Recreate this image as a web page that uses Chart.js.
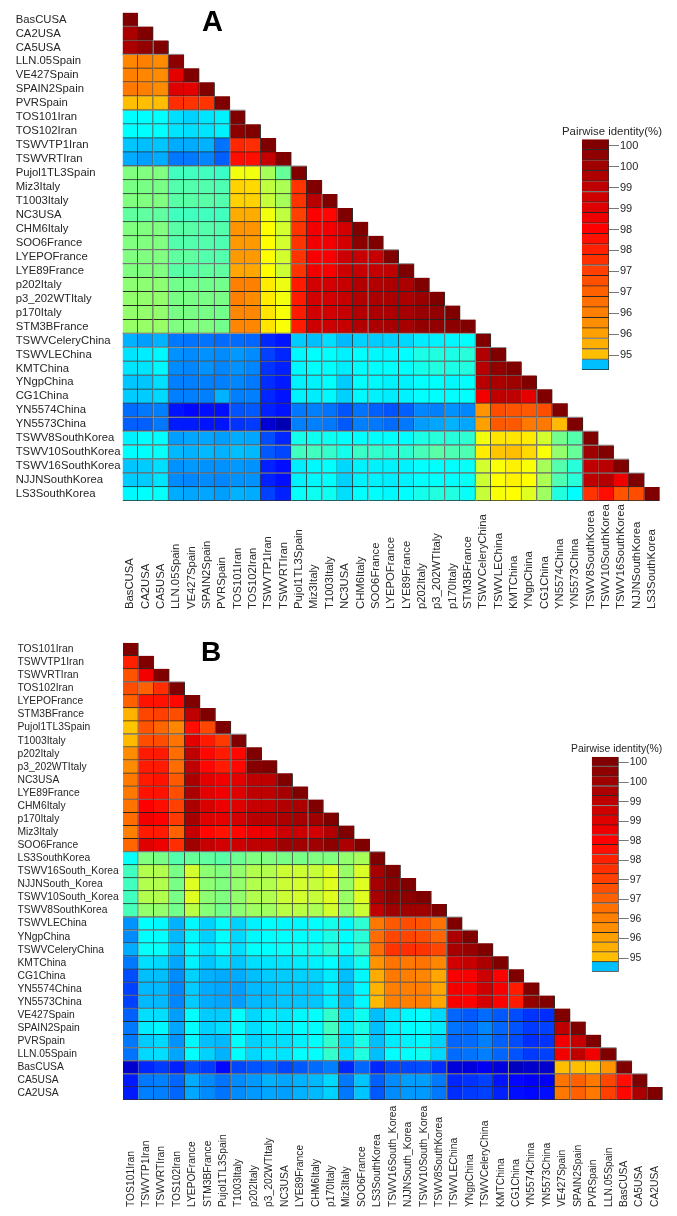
<!DOCTYPE html>
<html lang="en">
<head>
    <meta charset="UTF-8">
    <title>Pairwise identity</title>
    <script src="https://cdn.jsdelivr.net/npm/chart.js"></script>
    <style>
        html, body { margin: 0; padding: 0; background: #fff; }
        #page { position: relative; width: 677px; height: 1216px; overflow: hidden; font-family: "Liberation Sans", Arial, sans-serif; color: #262626; }
        canvas { position: absolute; }
        .letter { position: absolute; font-weight: bold; color: #000; line-height: 1; }
        .keyTitle { position: absolute; white-space: nowrap; line-height: 1; }
    </style>
</head>
<body>
<div id="page">
    <canvas id="panelA" width="677" height="625" style="left:0;top:0"></canvas>
    <canvas id="panelB" width="677" height="591" style="left:0;top:625px"></canvas>
    <canvas id="keyA" width="147" height="280" style="left:530px;top:110px"></canvas>
    <canvas id="keyB" width="137" height="260" style="left:540px;top:730px"></canvas>
    <div class="letter" style="left:202px;top:7px;font-size:29px">A</div>
    <div class="letter" style="left:201px;top:638px;font-size:28px">B</div>
    <div class="keyTitle" style="left:562px;top:126px;font-size:11.4px">Pairwise identity(%)</div>
    <div class="keyTitle" style="left:571px;top:744px;font-size:10.4px">Pairwise identity(%)</div>
</div>

<script>
    // Isolate names, top to bottom / left to right
    const labelsA = ['BasCUSA', 'CA2USA', 'CA5USA', 'LLN.05Spain', 'VE427Spain', 'SPAIN2Spain', 'PVRSpain',
        'TOS101Iran', 'TOS102Iran', 'TSWVTP1Iran', 'TSWVRTIran', 'Pujol1TL3Spain', 'Miz3Italy', 'T1003Italy',
        'NC3USA', 'CHM6Italy', 'SOO6France', 'LYEPOFrance', 'LYE89France', 'p202Italy', 'p3_202WTItaly',
        'p170Italy', 'STM3BFrance', 'TSWVCeleryChina', 'TSWVLEChina', 'KMTChina', 'YNgpChina', 'CG1China',
        'YN5574China', 'YN5573China', 'TSWV8SouthKorea', 'TSWV10SouthKorea', 'TSWV16SouthKorea',
        'NJJNSouthKorea', 'LS3SouthKorea'];

    const labelsB = ['TOS101Iran', 'TSWVTP1Iran', 'TSWVRTIran', 'TOS102Iran', 'LYEPOFrance', 'STM3BFrance',
        'Pujol1TL3Spain', 'T1003Italy', 'p202Italy', 'p3_202WTItaly', 'NC3USA', 'LYE89France', 'CHM6Italy',
        'p170Italy', 'Miz3Italy', 'SOO6France', 'LS3SouthKorea', 'TSWV16South_Korea', 'NJJNSouth_Korea',
        'TSWV10South_Korea', 'TSWV8SouthKorea', 'TSWVLEChina', 'YNgpChina', 'TSWVCeleryChina', 'KMTChina',
        'CG1China', 'YN5574China', 'YN5573China', 'VE427Spain', 'SPAIN2Spain', 'PVRSpain', 'LLN.05Spain',
        'BasCUSA', 'CA5USA', 'CA2USA'];

    // Pairwise identity (%), lower triangle by row
    const identityA = [
        [100],
        [99.3, 100],
        [99.3, 99.7, 100],
        [95.9, 96, 95.8, 99.8],
        [96, 95.9, 95.8, 98.4, 100],
        [96.1, 96, 95.8, 98.5, 98.4, 100],
        [95, 95, 95, 97.3, 97.2, 97.2, 100],
        [90, 90, 90, 89.5, 89.3, 89.6, 89.8, 100],
        [90, 90, 90, 89.6, 89.5, 89.6, 89.8, 99.8, 100],
        [89.1, 89, 89.1, 88.7, 88.7, 88.8, 87.8, 97.4, 97.3, 100],
        [88.7, 88.5, 88.7, 87.9, 87.9, 88.1, 87.5, 97.8, 97.8, 98.9, 100],
        [92, 92, 92, 91, 91, 91, 90.9, 93.8, 93.8, 92.6, 91.6, 100],
        [91.9, 91.9, 91.9, 91.3, 91.3, 91.3, 91.2, 94.7, 94.6, 93, 92.7, 97.2, 100],
        [92, 92, 92, 91.4, 91.4, 91.4, 91.3, 94.7, 94.7, 93.1, 92.6, 97.2, 99.1, 100],
        [91.5, 91.5, 91.5, 91, 91, 91, 91, 95.3, 95.3, 93.8, 93, 97, 98, 97.9, 100],
        [92, 92, 92, 91.4, 91.4, 91.3, 91.3, 95.7, 95.7, 94, 93.3, 97.2, 98.2, 98.2, 98.7, 100],
        [92, 92, 92, 91.3, 91.3, 91.3, 91.2, 95.6, 95.6, 94, 93.3, 97.2, 98.2, 98.2, 98.7, 99.8, 100],
        [92, 92, 92, 91.5, 91.5, 91.3, 91.3, 95.6, 95.6, 94, 93.3, 97.2, 98.1, 98.1, 98.8, 98.9, 98.9, 100],
        [92, 92, 92, 91.4, 91.4, 91.5, 91.5, 95.4, 95.4, 94, 93.2, 97.2, 98.2, 98.1, 98.8, 98.9, 98.9, 99, 100],
        [92.2, 92.2, 92.2, 91.8, 91.8, 91.8, 91.8, 96, 96, 94.3, 93.7, 97.6, 98.7, 98.7, 98.9, 99.2, 99.2, 99.3, 99.3, 100],
        [92.3, 92.3, 92.3, 91.9, 91.9, 91.9, 91.9, 96, 95.8, 94.3, 93.8, 97.6, 98.7, 98.7, 98.9, 99.2, 99.3, 99.3, 99.3, 99.6, 100],
        [92.3, 92.3, 92.3, 91.9, 91.9, 91.9, 91.8, 95.9, 95.9, 94.4, 93.9, 97.6, 98.7, 98.7, 98.9, 99.2, 99.3, 99.3, 99.4, 99.6, 99.7, 100],
        [92.4, 92.4, 92.4, 92, 92, 92, 91.8, 95.9, 95.9, 94.4, 93.9, 97.6, 98.8, 98.8, 98.9, 99.2, 99.3, 99.4, 99.4, 99.7, 99.7, 99.8, 100],
        [88.8, 88.5, 88.8, 87.9, 87.8, 87.8, 87.7, 87.7, 87.6, 86.6, 86.3, 89.2, 89, 89.5, 88.9, 89.3, 89.2, 89.3, 89.4, 89.7, 89.8, 89.9, 90, 100],
        [89.6, 89.7, 89.9, 88.3, 88.2, 88.3, 88.2, 88.4, 88.2, 87, 86.6, 89.9, 90, 90, 89.8, 90, 89.9, 89.9, 90, 90.4, 90.5, 90.4, 90.6, 99.2, 100],
        [89.6, 89.6, 89.9, 88.2, 88.1, 88.3, 88.1, 88.3, 88.1, 86.8, 86.5, 89.9, 90, 90, 89.7, 90, 90, 90, 90, 90.3, 90.5, 90.4, 90.5, 99.1, 99.7, 100],
        [89.1, 89.1, 89.5, 88, 88, 88, 88, 88.1, 87.9, 86.7, 86.4, 89.8, 89.8, 90, 89.2, 90, 89.9, 89.8, 89.8, 90, 90, 89.9, 90, 99.1, 99.3, 99.5, 100],
        [89.2, 89.2, 89.4, 88, 88, 88, 88.8, 88, 88, 86.6, 86.3, 89.8, 89.7, 89.9, 89.3, 89.9, 89.8, 89.7, 89.8, 90, 90, 90, 90, 98.2, 99, 99, 98.4, 100],
        [87.7, 87.9, 88, 86.3, 86.1, 86.2, 86.2, 87.3, 87.4, 86.5, 86.3, 87.9, 88, 87.8, 87.3, 87.8, 87.5, 87.3, 87.5, 88.1, 88, 88.3, 88.1, 95.7, 96.8, 96.7, 96.6, 96.8, 100],
        [87.5, 87.5, 87.9, 86.4, 86.4, 86.3, 86.3, 86.8, 86.9, 85.3, 84.8, 88, 88, 87.9, 87.4, 88, 87.9, 87.7, 87.9, 88.5, 88.6, 88.8, 88.6, 95.5, 96.6, 96.6, 96.1, 96.1, 95.1, 100],
        [89.8, 90, 90, 88.5, 88.6, 88.6, 88.5, 88.7, 88.6, 87.2, 86.6, 90.3, 90.2, 90.2, 90, 90, 90, 90, 90, 90.4, 90.6, 90.6, 90.7, 93.8, 94.4, 94.4, 94.3, 93.3, 91.8, 91.3, 100],
        [90, 90, 90.1, 88.9, 88.8, 88.9, 88.8, 89, 88.9, 87.4, 87.1, 91, 91, 90.8, 90.3, 90.9, 90.8, 90.6, 90.7, 91.1, 91.4, 91.2, 91.2, 94.3, 94.9, 95, 94.6, 93.9, 92.3, 91.6, 99.5, 100],
        [89.1, 89.2, 89.5, 88.3, 88.4, 88.3, 88.3, 88.4, 88.3, 86.5, 86.2, 89.7, 89.9, 90, 89.4, 89.8, 89.8, 89.8, 89.8, 90, 90, 90, 90.1, 93.3, 93.9, 94.2, 93.9, 92.6, 91.3, 90.6, 99, 99.1, 100],
        [89.2, 89.2, 89.6, 88.2, 88.1, 88.2, 88.1, 88.3, 88.3, 86.5, 86.2, 89.8, 89.9, 90, 89.3, 89.8, 89.8, 89.7, 89.8, 90, 90, 90, 90.1, 93.2, 94, 94.2, 94, 92.7, 91.2, 90.6, 99, 99.2, 98.3, 100],
        [89.9, 90, 90.1, 88.7, 88.6, 88.6, 88.5, 88.8, 88.7, 87, 86.5, 90.1, 90.2, 90.2, 89.5, 90, 90, 89.9, 90, 90.3, 90.5, 90.5, 90.1, 93.1, 93.9, 94, 93.5, 92.5, 90.5, 90, 97.2, 97.8, 96.7, 96.8, 100]
    ];

    const identityB = [
        [100],
        [97.5, 100],
        [96.7, 98.2, 100],
        [96.8, 96.5, 97.3, 100],
        [96.5, 97.7, 97.7, 97.9, 100],
        [95.2, 96.9, 97, 96.8, 99, 100],
        [94.9, 96.7, 96.4, 95.9, 97.8, 96.9, 100],
        [95.1, 96.8, 96.8, 96.2, 98.4, 97.6, 97.1, 100],
        [95.8, 97.6, 97.6, 96.3, 99, 97.9, 97.6, 97.9, 100],
        [95.8, 97.6, 97.6, 96.3, 99, 97.9, 97.6, 97.9, 99.9, 100],
        [96.1, 97.6, 97.7, 96.6, 99.3, 98.4, 98.2, 98.4, 99, 99, 100],
        [96.1, 97.7, 97.7, 96.8, 99.3, 98.4, 98.2, 98.5, 99, 99, 99.4, 100],
        [96.2, 98, 97.8, 97, 99.3, 98.6, 98.3, 98.5, 98.9, 98.9, 99.2, 99.3, 100],
        [96.3, 98.2, 98, 97.1, 99.4, 98.5, 98.4, 98.7, 99.1, 99.1, 99.3, 99.4, 99.5, 100],
        [96, 97.6, 97.6, 96.5, 98.9, 97.9, 97.7, 97.9, 98.3, 98.3, 98.8, 98.8, 98.7, 99.2, 100],
        [96.4, 98.5, 98.3, 97.3, 99.5, 98.9, 98.7, 98.8, 99, 99, 99.5, 99.5, 99.5, 99.8, 99.3, 100],
        [90.1, 92, 91.9, 91.3, 91.6, 91.5, 91.4, 91.7, 92, 92, 91.9, 91.9, 92, 92, 92.3, 92.6, 100],
        [91, 92.8, 92.8, 91.9, 93.3, 92.2, 92, 92.3, 92.8, 92.8, 93.2, 93.2, 93.1, 93.5, 92.4, 93.4, 99.4, 100],
        [91, 92.8, 92.8, 91.9, 93.5, 92.2, 92, 92.3, 92.8, 92.8, 93.2, 93.3, 93.1, 93.5, 92.4, 93.5, 99.4, 99.8, 100],
        [91, 92.8, 92.8, 91.9, 93.5, 92.2, 92, 92.3, 92.8, 92.8, 93.2, 93.3, 93.1, 93.5, 92.4, 93.5, 99.4, 99.8, 99.8, 100],
        [91.1, 92.3, 92.3, 91.8, 92.9, 92.1, 91.8, 92.2, 92.5, 92.5, 92.9, 92.9, 92.7, 93.3, 92.3, 93.2, 99, 99.5, 99.5, 99.5, 100],
        [88.3, 90, 89.9, 88.8, 89.9, 89.3, 89.9, 89.3, 89.8, 90, 89.9, 89.9, 90, 90.3, 89.9, 90.7, 96.1, 96.6, 96.8, 96.7, 96.2, 100],
        [88.2, 90, 90, 88.9, 89.9, 89.3, 90, 89.4, 89.9, 90, 90, 90, 90, 90.4, 90, 90.6, 96.3, 96.9, 96.9, 96.8, 96.4, 99.3, 100],
        [88.7, 90.1, 90.1, 89.1, 90, 89.5, 90, 89.5, 90, 90, 90.1, 90.2, 90.2, 90.7, 90, 90.9, 96.3, 97.2, 97.3, 97.2, 96.9, 99.4, 99.6, 100],
        [87.9, 89.5, 89.4, 88.6, 89.8, 89.1, 89.5, 89.1, 89.5, 89.6, 89.6, 89.7, 89.8, 90, 89.5, 90.2, 95.7, 96.2, 96.1, 96.2, 95.9, 98.7, 98.9, 99.3, 100],
        [87.2, 89, 89, 88.2, 89.3, 88.8, 88.7, 88.7, 89, 89.2, 89.2, 89.3, 89.3, 89.7, 89, 89.9, 95.3, 96.1, 96, 95.9, 95.4, 98.1, 98.1, 98.8, 98, 100],
        [87, 88.9, 88.9, 88.1, 89.2, 88.7, 88.6, 88.5, 88.9, 89, 89.1, 89.1, 89.1, 89.7, 89, 89.9, 95.2, 96, 96, 96, 95.4, 98.2, 98.1, 98.8, 98.1, 97.6, 100],
        [87, 88.9, 88.9, 88.1, 89.2, 88.7, 88.6, 88.5, 88.9, 89, 89.1, 89.1, 89.1, 89.7, 89, 89.9, 95.1, 96, 96, 96, 95.4, 98.1, 98, 98.7, 98, 97.6, 99.7, 100],
        [87.5, 89.5, 89.5, 88.5, 90, 89.2, 89.2, 90, 89.4, 89.7, 89.6, 89.9, 90, 90.8, 89.5, 90.2, 89, 89.6, 89.9, 90, 89.4, 87.6, 87.4, 87.7, 87.4, 87.2, 86.8, 86.7, 100],
        [87.9, 89.7, 89.9, 88.6, 90, 89.3, 89.5, 90, 89.5, 89.8, 89.7, 90, 90, 91, 89.7, 90.4, 89, 89.8, 90, 90, 89.7, 87.8, 87.7, 88.1, 87.6, 87.3, 86.9, 87, 99, 100],
        [87.9, 89.2, 89.4, 88.3, 89.9, 89, 88.9, 90, 89.3, 89.5, 89.5, 89.8, 90, 90.8, 89.4, 90.4, 89, 89.7, 89.8, 89.9, 89.3, 87.6, 87.7, 88, 87.5, 87.2, 86.7, 86.8, 98.2, 98.9, 100],
        [87.8, 89.4, 89.5, 88.6, 90, 89.3, 88.8, 90, 89.4, 89.7, 89.6, 90, 90, 90.8, 89.5, 90.5, 89, 90, 90, 90.2, 89.4, 87.7, 87.8, 88, 87.6, 87.3, 86.9, 87, 98.2, 99, 98.2, 100],
        [85.2, 86.6, 86.9, 86.5, 87.2, 86.9, 86.1, 87.1, 87.3, 87.5, 87.1, 87.4, 87.7, 88, 86.6, 87.6, 86.6, 87.1, 87.1, 87.2, 86.7, 85.4, 85.5, 85.8, 85.5, 85, 85.2, 85.2, 95, 95, 94.9, 95.7, 100],
        [86.4, 87.9, 88, 87.6, 88.7, 88.2, 87.8, 88.2, 88.4, 88.8, 88.6, 88.8, 88.9, 89.4, 87.9, 89.1, 87.5, 88.2, 88.5, 88.5, 87.9, 86.6, 86.8, 87, 86.3, 86.1, 85.9, 85.8, 96.2, 96.5, 96.1, 96.9, 97.8, 100],
        [86.4, 88, 88, 87.6, 88.6, 88.2, 87.8, 88.2, 88.4, 88.6, 88.5, 88.8, 88.9, 89.3, 87.9, 89.1, 87.4, 88.2, 88.4, 88.4, 87.9, 86.7, 86.9, 87, 86.5, 86.2, 86.1, 86.2, 96.1, 96.5, 96.1, 97, 97.9, 99.3, 100]
    ];

    // Colour key, top to bottom (the last bin is the "below 95" one)
    const keyValues = [100, 99.75, 99.5, 99.25, 99, 98.75, 98.5, 98.25, 98, 97.75, 97.5,
        97.25, 97, 96.75, 96.5, 96.25, 96, 95.75, 95.5, 95.25, 95, 89];
    const keyTickLabels = ['100', '100', '99', '99', '98', '98', '97', '97', '96', '96', '95'];

    // Cell boundaries that show up grey instead of black in the picture
    const greyRowsA = [3, 7, 11, 17, 18, 23, 24, 29, 30, 31, 32, 33];
    const greyColsA = [2, 7, 13, 16, 21, 23, 27, 30];
    const greyRowsB = [3, 7, 16, 21, 22, 31, 32, 33];
    const greyColsB = [7, 12, 16, 21, 25, 29, 33];
    const greyRowsKeyA = [5, 12, 19, 20];
    const greyRowsKeyB = [3, 5, 8, 10, 15];

    Chart.defaults.font.family = '"Liberation Sans", Arial, sans-serif';
    Chart.defaults.color = '#262626';

    // jet colormap, 84% = dark blue, 100% = dark red
    function identityColor(v) {
        const t = Math.min(1, Math.max(0, (v - 84) / 16));
        const ch = (x) => Math.round(255 * Math.min(1, Math.max(0, x)));
        const r = ch(Math.min(4 * t - 1.5, 4.5 - 4 * t));
        const g = ch(Math.min(4 * t - 0.5, 3.5 - 4 * t));
        const b = ch(Math.min(4 * t + 0.5, 2.5 - 4 * t));
        return `rgb(${r},${g},${b})`;
    }

    // One floating bar per cell, one dataset per row
    function cellDatasets(rows) {
        return rows.map((row, r) => ({
            data: row.map(() => [r, r + 1]),
            backgroundColor: row.map(identityColor),
            borderColor: 'rgba(15,15,15,0.88)',
            borderWidth: { top: 0, left: 0, right: 1, bottom: 1 },
            borderSkipped: false,
            grouped: false,
            barPercentage: 1,
            categoryPercentage: 1
        }));
    }

    // Rotated names hanging from a common bottom line
    const bottomLabels = {
        id: 'bottomLabels',
        afterDraw(chart, args, opts) {
            const ctx = chart.ctx;
            ctx.save();
            ctx.font = opts.size + 'px "Liberation Sans", Arial, sans-serif';
            ctx.fillStyle = '#262626';
            ctx.textAlign = 'left';
            ctx.textBaseline = 'middle';
            chart.data.labels.forEach((name, i) => {
                ctx.save();
                ctx.translate(chart.scales.x.getPixelForValue(i), opts.y);
                ctx.rotate(-Math.PI / 2);
                ctx.fillText(name, 0, 0);
                ctx.restore();
            });
            ctx.restore();
        }
    };

    // Grey boundaries, placed with the scales and stopped at the triangle's edge
    const greyLines = {
        id: 'greyLines',
        afterDatasetsDraw(chart, args, opts) {
            const { x, y } = chart.scales;
            const cols = chart.data.labels.length;
            const ctx = chart.ctx;
            ctx.save();
            ctx.strokeStyle = '#8c8c8c';
            ctx.lineWidth = 1;
            ctx.beginPath();
            opts.rows.forEach((r) => {
                ctx.moveTo(x.getPixelForValue(-0.5), y.getPixelForValue(r));
                ctx.lineTo(x.getPixelForValue(Math.min(r + 1, cols) - 0.5), y.getPixelForValue(r));
            });
            opts.cols.forEach((c) => {
                ctx.moveTo(x.getPixelForValue(c - 0.5), y.getPixelForValue(c));
                ctx.lineTo(x.getPixelForValue(c - 0.5), y.max === undefined ? 0 : y.getPixelForValue(y.max));
            });
            ctx.stroke();
            ctx.restore();
        }
    };

    function drawPanel(id, labels, rows, box) {
        new Chart(document.getElementById(id), {
            type: 'bar',
            data: { labels: labels, datasets: cellDatasets(rows) },
            plugins: [greyLines, bottomLabels],
            options: {
                responsive: false,
                animation: false,
                layout: { padding: box.padding },
                plugins: {
                    legend: { display: false },
                    tooltip: { enabled: false },
                    bottomLabels: { y: box.labelY, size: box.fontSize },
                    greyLines: { rows: box.greyRows, cols: box.greyCols }
                },
                scales: {
                    x: { type: 'category', display: false, offset: true },
                    y: {
                        type: 'linear',
                        reverse: true,
                        min: 0,
                        max: labels.length,
                        afterBuildTicks: (axis) => { axis.ticks = labels.map((_, i) => ({ value: i + 0.5 })); },
                        afterFit: (axis) => { axis.width = box.axisWidth; },
                        grid: { display: false },
                        border: { display: false },
                        ticks: {
                            autoSkip: false,
                            crossAlign: 'far',
                            padding: 0,
                            font: { size: box.fontSize },
                            callback: (value, i) => labels[i]
                        }
                    }
                }
            }
        });
    }

    function drawKey(id, box) {
        new Chart(document.getElementById(id), {
            type: 'bar',
            data: { labels: ['key'], datasets: cellDatasets(keyValues.map(v => [v])) },
            plugins: [greyLines],
            options: {
                responsive: false,
                animation: false,
                layout: { padding: box.padding },
                plugins: {
                    legend: { display: false },
                    tooltip: { enabled: false },
                    greyLines: { rows: box.greyRows, cols: [] }
                },
                scales: {
                    x: { type: 'category', display: false, offset: true },
                    y: {
                        type: 'linear',
                        position: 'right',
                        reverse: true,
                        min: 0,
                        max: keyValues.length,
                        afterBuildTicks: (axis) => { axis.ticks = keyTickLabels.map((_, i) => ({ value: i * 2 + 0.6 })); },
                        afterFit: (axis) => { axis.width = box.axisWidth; },
                        grid: { drawOnChartArea: false, tickLength: 10, tickColor: '#777', tickWidth: 1 },
                        border: { display: false },
                        ticks: {
                            autoSkip: false,
                            padding: 1,
                            font: { size: box.fontSize },
                            callback: (value, i) => keyTickLabels[i]
                        }
                    }
                }
            }
        });
    }

    drawPanel('panelA', labelsA, identityA, {
        padding: { left: 15.7, top: 12.5, right: 17.3, bottom: 124 },
        axisWidth: 106.8, fontSize: 11.3, labelY: 609, greyRows: greyRowsA, greyCols: greyColsA
    });
    drawPanel('panelB', labelsB, identityB, {
        padding: { left: 17.5, top: 17.7, right: 14.3, bottom: 116 },
        axisWidth: 105.5, fontSize: 10.3, labelY: 582, greyRows: greyRowsB, greyCols: greyColsB
    });
    drawKey('keyA', { padding: { left: 52, top: 29.3, right: 0, bottom: 20 }, axisWidth: 68, fontSize: 11, greyRows: greyRowsKeyA });
    drawKey('keyB', { padding: { left: 51.7, top: 26.7, right: 0, bottom: 18.3 }, axisWidth: 58.3, fontSize: 10.4, greyRows: greyRowsKeyB });
</script>
</body>
</html>
